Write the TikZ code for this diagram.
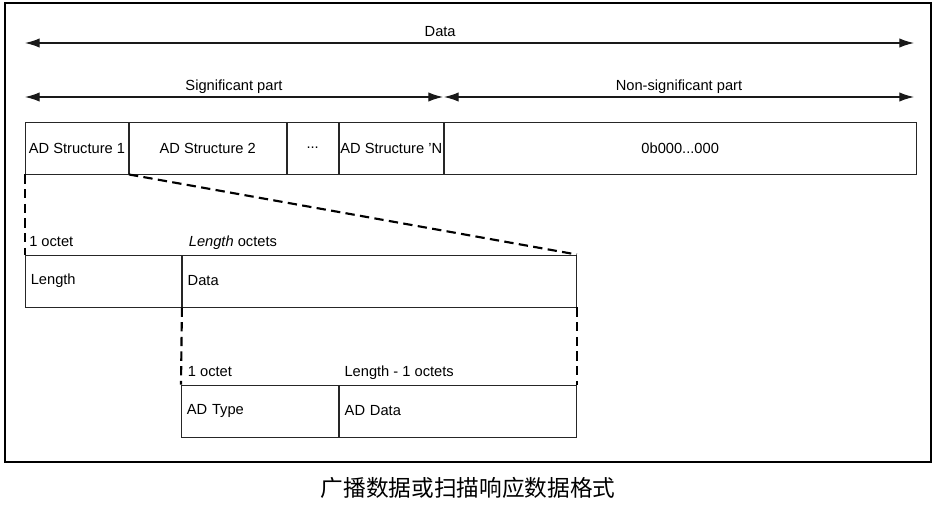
\documentclass[tikz,border=0pt]{standalone}
\usepackage{fontspec}
\setmainfont{Liberation Sans}
\newfontfamily\cjk{Noto Sans CJK SC}
\usetikzlibrary{arrows.meta}

\tikzset{
    field/.style={draw=black!85, line width=0.7pt, minimum height=39pt, inner sep=0pt,
        anchor=west, font=\fontsize{11}{13}\selectfont},
    leftfield/.style={field, inner xsep=4pt, align=left},
    octet/.style={anchor=base west, inner sep=0pt, font=\fontsize{11}{13}\selectfont},
    span/.style={line width=0.9pt, draw=black!90, {Latex[length=11pt,width=7pt]}-{Latex[length=11pt,width=7pt]}},
    spanlabel/.style={anchor=base, inner sep=0pt, yshift=5pt, font=\fontsize{11}{13}\selectfont},
    zoomline/.style={line width=1.6pt, dash pattern=on 7pt off 4pt}
}

\begin{document}
\begin{tikzpicture}[x=0.75pt, y=-0.75pt]
    \useasboundingbox (0,0) rectangle (936,504);
    % 外框
    \draw[line width=1.6pt] (5,3) rectangle (931,462);

    % 第一行: AD 结构
    \node[field, minimum width=77.25pt] (s1) at (25,148) {AD Structure 1};
    \node[field, minimum width=117.5pt] (s2) at (s1.east) {AD Structure 2};
    \node[field, minimum width=38.5pt] (sdots) at (s2.east) {...};
    \node[field, minimum width=78pt] (sN) at (sdots.east) {AD Structure 'N};
    \node[field, minimum width=354pt] (zeros) at (sN.east) {0b000...000};

    % 长度箭头
    \coordinate (dataL) at (25,43);
    \coordinate (dataR) at (914,43);
    \coordinate (sigL) at (25,97);
    \coordinate (sigR) at (443,97);
    \coordinate (nsigL) at (444,97);
    \coordinate (nsigR) at (914,97);
    \draw[span] (dataL) -- node[spanlabel, pos=0.467] {Data} (dataR);
    \draw[span] (sigL) -- node[spanlabel] {Significant part} (sigR);
    \draw[span] (nsigL) -- node[spanlabel] {Non-significant part} (nsigR);

    % 第二行: Length + Data
    \node[leftfield, text width=109pt] (len) at (25,281) {Length};
    \node[leftfield, text width=287.5pt] (data) at (len.east) {Data};
    \node[octet] (len-o) at ([xshift=3pt, yshift=6pt]len.north west) {1 octet};
    \node[octet] (data-o) at ([xshift=5pt, yshift=6pt]data.north west) {\textit{Length} octets};

    % 第三行: AD Type + AD Data
    \node[leftfield, text width=109.75pt] (type) at (181,411) {AD Type};
    \node[leftfield, text width=169.75pt] (addata) at (type.east) {AD Data};
    \node[octet] (type-o) at ([xshift=5pt, yshift=6pt]type.north west) {1 octet};
    \node[octet] (addata-o) at ([xshift=4pt, yshift=6pt]addata.north west) {Length - 1 octets};

    % 展开虚线
    \draw[zoomline] (s1.south west) -- (len.north west);
    \draw[zoomline] (s1.south east) -- (data.north east);
    \draw[zoomline] (data.south west) -- (type.north west);
    \draw[zoomline] (data.south east) -- (addata.north east);

    % 图题
    \node[font=\cjk\fontsize{17}{20}\selectfont] (caption) at (468,488) {广播数据或扫描响应数据格式};
\end{tikzpicture}
\end{document}
